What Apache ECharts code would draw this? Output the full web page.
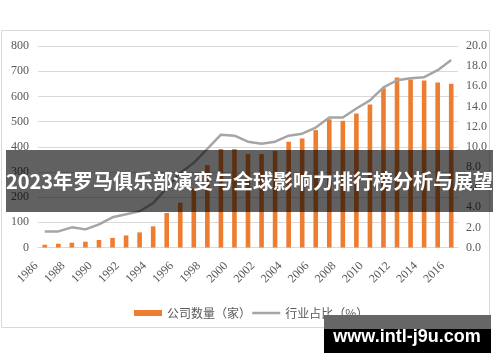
<!DOCTYPE html>
<html>
<head>
<meta charset="utf-8">
<script src="https://cdn.jsdelivr.net/npm/echarts@6/dist/echarts.min.js"></script>
<style>html,body{margin:0;padding:0;background:#fff;}#c{width:500px;height:362px;}</style>
</head>
<body>
<div id="c"></div>
<script>
const years = ['1986','1987','1988','1989','1990','1991','1992','1993','1994','1995','1996','1997','1998','1999','2000','2001','2002','2003','2004','2005','2006','2007','2008','2009','2010','2011','2012','2013','2014','2015','2016'];
const companies = [11,15,19,23,30,38,48,60,84,137,178,235,327,391,391,371,371,383,420,433,466,509,503,532,568,632,675,667,663,655,650];
const sharePct = [1.6,1.6,2.0,1.8,2.3,3.0,3.3,3.6,4.4,5.9,7.4,8.4,9.8,11.2,11.1,10.5,10.3,10.5,11.1,11.3,11.9,12.9,12.9,13.8,14.6,15.9,16.6,16.8,16.9,17.6,18.6];
const leftTicks = {min:0, max:800, interval:100};
const rightTicks = {min:0, max:20, interval:2};
const seriesNames = ['公司数量（家）','行业占比（%）'];
const titleText = '2023年罗马俱乐部演变与全球影响力排行榜分析与展望';
const watermark = 'www.intl-j9u.com';

const chart = echarts.init(document.getElementById('c'), null, {renderer:'canvas'});
const serif = '"Liberation Serif", "Times New Roman", serif';
const cjk = '"Noto Sans CJK SC", "Noto Sans", sans-serif';
chart.setOption({
  animation:false,
  backgroundColor:'#ffffff',
  grid:{left:38, right:42, top:46, bottom:114.5, containLabel:false},
  legend:{
    left:129, top:302, itemWidth:28, itemHeight:6, itemGap:0,
    textStyle:{fontSize:12, color:'#595959', fontFamily:cjk},
    data:[{name:seriesNames[0], icon:'rect'},{name:seriesNames[1], itemStyle:{opacity:0}, lineStyle:{color:'#a5a5a5', width:2.5}}]
  },
  xAxis:{
    type:'category', data:years,
    axisLine:{show:true, lineStyle:{color:'#d9d9d9'}},
    axisTick:{show:false},
    axisLabel:{interval:1, rotate:45, fontSize:12, color:'#595959', fontFamily:serif, margin:8, padding:[0,12,0,0]}
  },
  yAxis:[
    {type:'value', min:leftTicks.min, max:leftTicks.max, interval:leftTicks.interval,
     axisLine:{show:false}, axisTick:{show:false},
     splitLine:{lineStyle:{color:'#d9d9d9', width:1}},
     axisLabel:{fontSize:12, color:'#595959', fontFamily:serif, margin:9}},
    {type:'value', min:rightTicks.min, max:rightTicks.max, interval:rightTicks.interval,
     axisLine:{show:false}, axisTick:{show:false}, splitLine:{show:false},
     axisLabel:{fontSize:12, color:'#595959', fontFamily:serif, margin:8,
       formatter:v=>v.toFixed(1)}}
  ],
  series:[
    {name:seriesNames[0], type:'bar', data:companies, barWidth:'34%', itemStyle:{color:'#ed7d31'}, yAxisIndex:0},
    {name:seriesNames[1], type:'line', data:sharePct, yAxisIndex:1, symbol:'none',
     lineStyle:{color:'#a5a5a5', width:2.5}, itemStyle:{color:'#a5a5a5'}}
  ],
  graphic:[
    {type:'rect', z:-1, shape:{x:1.5, y:30.5, width:488, height:297}, style:{fill:'none', stroke:'#d9d9d9', lineWidth:1}},
    {type:'rect', z:100, shape:{x:6, y:150, width:487, height:62}, style:{fill:'rgba(0,0,0,0.62)'}},
    {type:'text', z:101, x:249.5, y:181, style:{text:titleText, fill:'#ffffff', font:'bold 20px "Noto Sans CJK SC", sans-serif', textAlign:'center', textVerticalAlign:'middle'}},
    {type:'rect', z:100, shape:{x:324, y:315, width:167, height:14}, style:{fill:'#666666'}},
    {type:'rect', z:100, shape:{x:324, y:329, width:167, height:24}, style:{fill:'#000000'}},
    {type:'text', z:101, x:407, y:337, style:{text:watermark, fill:'#ffffff', font:'bold 18px "Liberation Sans", Arial, sans-serif', textAlign:'center', textVerticalAlign:'middle'}}
  ]
});
</script>
</body>
</html>
